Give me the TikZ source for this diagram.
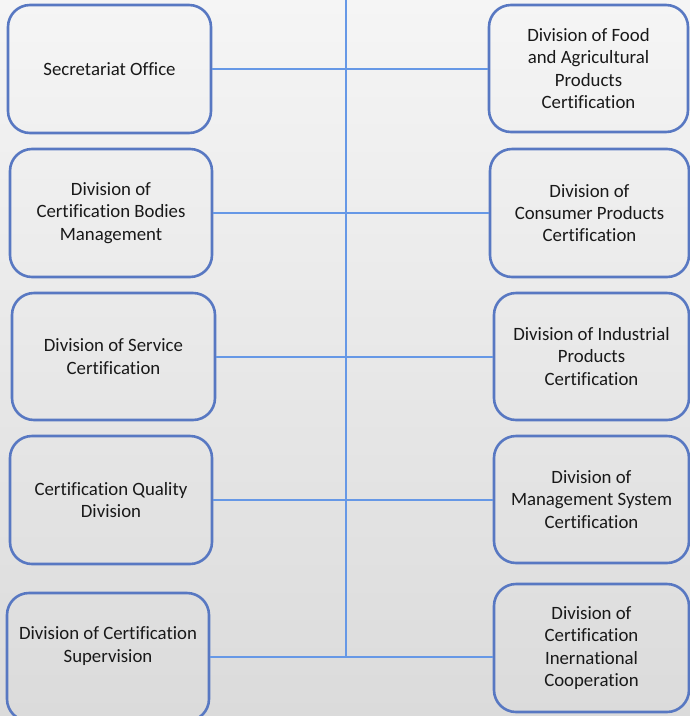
\documentclass[tikz,border=0pt]{standalone}
\usepackage{fontspec}
\setmainfont{Carlito}[RawFeature={-liga;-dlig;-clig}]
\definecolor{boxline}{RGB}{88,120,194}
\definecolor{conn}{RGB}{102,152,230}
\definecolor{bgtop}{RGB}{245,245,245}
\definecolor{bgbot}{RGB}{219,219,219}
\begin{document}
\begin{tikzpicture}[x=1pt,y=-1pt,
  box/.style={draw=boxline, line width=2.6pt, rounded corners=22pt, inner sep=0pt, align=center,
    font=\fontsize{18.8}{22.4}\selectfont, text=black!90},
  lbl/.style={inner sep=0pt, align=center, font=\fontsize{18.8}{22.4}\selectfont, text=black!90},
  link/.style={draw=conn, line width=2pt}]
\useasboundingbox (0,0) rectangle (690,716);
\clip (0,0) rectangle (690,716);
\shade[top color=bgtop, bottom color=bgbot] (0,0) rectangle (690,716);
% left column
\node[box, minimum width=203pt, minimum height=128pt] (L1) at (109.5,69) {Secretariat Office};
\node[box, minimum width=202pt, minimum height=128pt] (L2) at (111,213) {Division of\\Certification Bodies\\Management};
\node[box, minimum width=203pt, minimum height=127pt] (L3) at (113.5,356.5) {Division of Service\\Certification};
\node[box, minimum width=202pt, minimum height=128pt] (L4) at (111,500) {Certification Quality\\Division};
\node[box, minimum width=202pt, minimum height=128pt] (L5) at (108,657) {};
\node[lbl] (L5t) at (108,646) {Division of Certification\\Supervision};
% right column
\node[box, minimum width=199pt, minimum height=127pt] (R1) at (588.5,68.5) {Division of Food\\and Agricultural\\Products\\Certification};
\node[box, minimum width=199pt, minimum height=128pt] (R2) at (589.5,213) {Division of\\Consumer Products\\Certification};
\node[box, minimum width=195pt, minimum height=127pt] (R3) at (591.5,356.5) {Division of Industrial\\Products\\Certification};
\node[box, minimum width=195pt, minimum height=127pt] (R4) at (591.5,499.5) {Division of\\Management System\\Certification};
\node[box, minimum width=195pt, minimum height=128pt] (R5) at (591.5,648) {Division of\\Certification\\Inernational\\Cooperation};
% connectors
\coordinate (top) at (346,0);
\coordinate (bot) at (346,657);
\draw[link] (top) -- (bot);
\draw[link] (L1.east) -- (L1.east -| R1.west);
\draw[link] (L2.east) -- (L2.east -| R2.west);
\draw[link] (L3.east) -- (L3.east -| R3.west);
\draw[link] (L4.east) -- (L4.east -| R4.west);
\draw[link] (L5.east) -- (L5.east -| R5.west);
\end{tikzpicture}
\end{document}
